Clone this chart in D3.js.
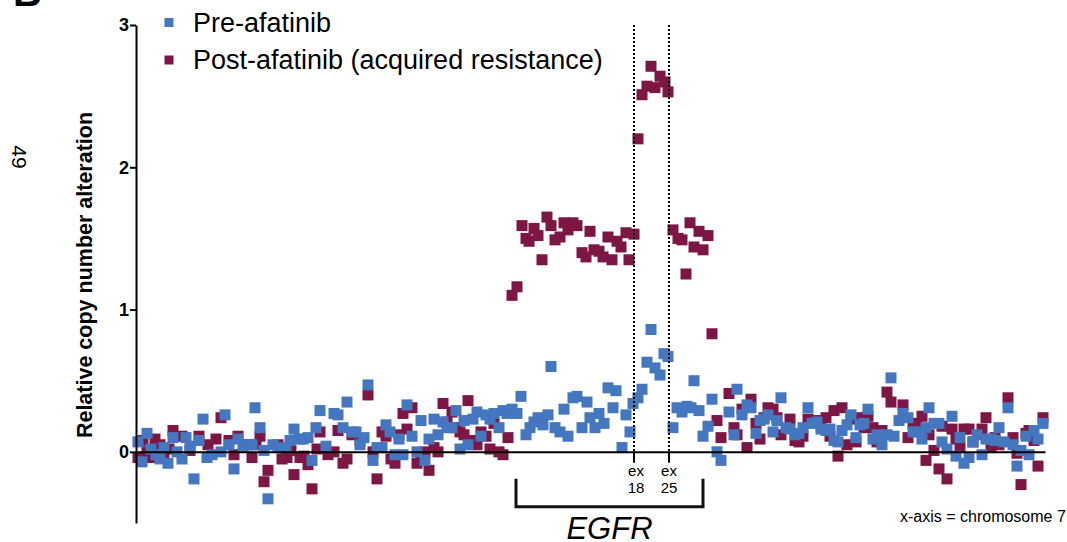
<!DOCTYPE html>
<html>
<head>
<meta charset="utf-8">
<script src="https://cdn.jsdelivr.net/npm/d3@7"></script>
<style>
  body { margin: 0; background: #fff; }
  svg { display: block; font-family: Arial, "Liberation Sans", Helvetica, sans-serif; }
</style>
</head>
<body>
<div id="chart"></div>
<script>
// posições ao longo do cromossomo 7 (índice de sonda) e alteração relativa
const preAfatinib = [
  [2,0.07],[6,-0.07],[11,0.13],[15,0.02],[20,-0.02],[24,-0.05],[28,0.03],[32,-0.08],[37,0.10],[41,0.00],
  [46,-0.05],[50,0.10],[54,0.04],[58,-0.19],[63,0.08],[67,0.23],[71,-0.04],[76,-0.02],[85,0.00],[89,0.26],
  [93,0.05],[98,-0.12],[102,0.09],[107,0.04],[111,0.05],[116,0.05],[119,0.31],[124,0.17],[128,0.01],[132,-0.33],
  [137,0.05],[142,0.03],[146,0.03],[150,0.03],[154,0.08],[158,0.16],[163,0.09],[167,0.09],[172,0.10],[176,-0.06],
  [180,0.17],[184,0.29],[190,0.04],[198,0.27],[202,0.26],[207,0.17],[211,0.35],[216,0.14],[220,0.14],[224,0.05],
  [228,0.10],[232,0.47],[237,-0.06],[241,0.03],[246,0.03],[250,0.19],[254,0.14],[259,-0.02],[263,0.09],[267,-0.02],
  [271,0.33],[276,0.11],[281,0.00],[285,0.22],[289,-0.06],[293,0.09],[298,0.23],[302,0.12],[307,0.21],[311,0.17],
  [316,0.17],[320,0.29],[324,0.02],[328,0.22],[332,0.05],[337,0.23],[341,0.28],[345,0.11],[350,0.26],[354,0.23],
  [358,0.27],[363,0.17],[367,0.29],[371,0.27],[376,0.30],[381,0.27],[385,0.39],[390,0.12],[394,0.17],[398,0.21],
  [402,0.24],[407,0.19],[412,0.26],[415,0.60],[419,0.17],[424,0.14],[428,0.30],[432,0.11],[437,0.38],[441,0.39],
  [446,0.17],[451,0.35],[454,0.24],[459,0.17],[463,0.27],[468,0.20],[472,0.45],[477,0.31],[480,0.43],[486,0.03],
  [490,0.26],[494,0.14],[497,0.34],[502,0.38],[506,0.44],[511,0.63],[515,0.86],[519,0.59],[524,0.54],[528,0.69],
  [532,0.67],[537,0.17],[541,0.31],[546,0.28],[551,0.32],[555,0.31],[558,0.50],[563,0.29],[567,0.11],[572,0.18],
  [576,0.37],[581,0.00],[585,-0.06],[593,0.28],[598,0.12],[601,0.44],[606,0.26],[611,0.33],[615,0.31],[620,0.13],
  [624,0.22],[628,0.23],[632,0.26],[637,0.14],[641,0.22],[645,0.38],[650,0.17],[654,0.16],[659,0.12],[663,0.13],
  [667,0.17],[672,0.31],[676,0.20],[681,0.21],[685,0.16],[690,0.15],[694,0.16],[698,0.08],[702,0.07],[706,0.15],
  [711,0.19],[715,0.26],[720,0.10],[724,0.19],[728,0.20],[732,0.30],[737,0.09],[741,0.12],[746,0.05],[751,0.12],
  [755,0.52],[758,0.11],[763,0.22],[767,0.27],[772,0.24],[777,0.14],[781,0.14],[786,0.09],[790,0.17],[793,0.31],
  [798,0.20],[803,0.20],[806,0.07],[811,0.02],[816,0.25],[820,-0.03],[824,0.10],[828,-0.08],[833,-0.04],[837,0.07],
  [841,0.12],[846,-0.02],[850,0.09],[855,0.09],[859,0.08],[863,0.17],[868,0.07],[872,0.31],[877,0.05],[881,-0.10],
  [885,0.01],[890,0.11],[893,-0.02],[898,0.15],[902,0.09],[907,0.20]
];

const postAfatinib = [
  [2,-0.04],[7,0.08],[11,0.00],[15,-0.04],[19,0.09],[24,0.05],[28,-0.03],[33,0.02],[37,0.15],[46,0.11],
  [54,0.01],[63,0.11],[72,0.05],[80,0.09],[85,0.24],[93,0.08],[98,-0.02],[102,0.11],[111,0.05],[116,-0.04],
  [120,0.05],[124,0.11],[128,-0.21],[132,-0.13],[142,0.05],[146,-0.05],[151,-0.04],[155,0.01],[158,-0.16],[164,-0.04],
  [168,-0.03],[172,-0.09],[176,-0.26],[181,0.02],[184,0.14],[192,-0.02],[198,0.00],[202,0.15],[207,-0.08],[211,-0.05],
  [216,0.12],[224,0.08],[232,0.40],[237,0.00],[241,-0.19],[246,0.14],[250,0.11],[255,-0.05],[259,-0.08],[263,0.12],
  [267,0.27],[271,0.16],[276,0.31],[281,-0.08],[285,-0.01],[289,0.00],[293,-0.13],[298,0.03],[302,0.00],[307,0.34],
  [311,0.21],[316,0.28],[320,0.17],[324,0.14],[328,0.12],[332,0.36],[337,0.08],[341,0.05],[345,0.14],[350,0.11],
  [354,0.02],[358,0.20],[363,0.00],[367,-0.02],[372,0.10],
  [376,1.10],[381,1.16],[386,1.59],[390,1.50],[393,1.48],[398,1.57],[402,1.52],[406,1.35],[411,1.65],[415,1.59],
  [419,1.49],[424,1.51],[428,1.61],[432,1.56],[437,1.61],[441,1.59],[446,1.40],[450,1.37],[454,1.55],[458,1.42],
  [463,1.41],[467,1.37],[472,1.51],[476,1.35],[481,1.48],[485,1.44],[490,1.54],[493,1.35],[498,1.53],
  [502,2.20],[506,2.51],[511,2.57],[515,2.71],[519,2.56],[524,2.64],[529,2.60],[532,2.53],
  [537,1.56],[542,1.50],[546,1.49],[550,1.25],[554,1.61],[558,1.44],[563,1.55],[567,1.42],[572,1.52],[576,0.83],
  [581,0.22],[585,0.10],[593,0.41],[598,0.17],[601,0.12],[606,0.30],[611,0.03],[615,0.37],[620,0.20],[624,0.09],
  [628,0.24],[632,0.31],[637,0.30],[641,0.24],[645,0.12],[654,0.23],[659,0.08],[663,0.07],[667,0.11],[672,0.23],
  [681,0.22],[685,0.19],[690,0.24],[694,0.11],[698,0.29],[702,-0.03],[706,0.31],[711,0.05],[715,0.23],[720,0.07],
  [724,0.24],[728,0.17],[732,0.25],[737,0.17],[741,0.07],[746,0.15],[751,0.42],[755,0.35],[767,0.33],[772,0.10],
  [777,0.20],[781,0.20],[786,0.25],[790,-0.06],[793,0.12],[798,0.01],[803,-0.12],[806,0.18],[811,-0.19],[816,0.16],
  [820,0.09],[824,0.03],[828,0.16],[833,0.16],[837,0.07],[846,0.16],[850,0.24],[855,0.03],[859,0.10],[863,0.05],
  [872,0.38],[877,0.10],[881,-0.01],[885,-0.23],[890,0.13],[893,0.15],[898,0.08],[902,-0.10],[907,0.24]
];

const yTicks = [0, 1, 2, 3];
const exonLabels = ["18", "25"];
const exonPos = [498, 533];
const egfrRange = [380, 567];
const legendLabels = ["Pre-afatinib", "Post-afatinib (acquired resistance)"];

const width = 1067;
const height = 542;
const corPre = "#4477bf";
const corPost = "#7e1645";
const tam = 11;

const svg = d3.select("#chart").append("svg")
    .attr("width", width)
    .attr("height", height);

svg.append("rect").attr("width", width).attr("height", height).attr("fill", "#fff");

const x = d3.scaleLinear().domain([0, 909]).range([136, 1045]);
const y = d3.scaleLinear().domain([-0.5, 3]).range([523, 25]);

// pontos: pós primeiro, pré por cima
svg.append("g")
    .selectAll("rect")
    .data(postAfatinib)
    .join("rect")
    .attr("x", d => x(d[0]) - tam / 2)
    .attr("y", d => y(d[1]) - tam / 2)
    .attr("width", tam)
    .attr("height", tam)
    .attr("fill", corPost);

svg.append("g")
    .selectAll("rect")
    .data(preAfatinib)
    .join("rect")
    .attr("x", d => x(d[0]) - tam / 2)
    .attr("y", d => y(d[1]) - tam / 2)
    .attr("width", tam)
    .attr("height", tam)
    .attr("fill", corPre);

// eixo x = linha no zero
svg.append("g")
    .attr("transform", `translate(0,${y(0)})`)
    .call(d3.axisBottom(x).tickValues([]).tickSizeOuter(0))
    .call(g => g.select(".domain").attr("stroke", "#000").attr("stroke-width", 2));

// eixo y
svg.append("g")
    .attr("transform", `translate(${x(0)},0)`)
    .call(d3.axisLeft(y).tickValues(yTicks).tickFormat(d3.format("d")).tickSize(6).tickSizeOuter(0).tickPadding(1))
    .call(g => g.select(".domain").attr("stroke", "#000").attr("stroke-width", 2))
    .call(g => g.selectAll(".tick line").attr("stroke", "#000").attr("stroke-width", 2))
    .call(g => g.selectAll(".tick text")
        .attr("fill", "#000")
        .attr("font-size", 18)
        .attr("font-weight", "bold")
        .attr("font-family", "Arial, 'Liberation Sans', sans-serif"));

svg.append("text")
    .attr("transform", `translate(92,275) rotate(-90)`)
    .attr("text-anchor", "middle")
    .attr("font-size", 21.5)
    .attr("font-weight", "bold")
    .text("Relative copy number alteration");

// linhas dos éxons
exonPos.forEach((p, i) => {
    svg.append("line")
        .attr("x1", x(p)).attr("x2", x(p))
        .attr("y1", y(3)).attr("y2", y(0))
        .attr("stroke", "#000")
        .attr("stroke-width", 2)
        .attr("stroke-dasharray", "2,2");
    svg.append("line")
        .attr("x1", x(p)).attr("x2", x(p))
        .attr("y1", y(0)).attr("y2", y(0) + 11)
        .attr("stroke", "#000")
        .attr("stroke-width", 2);
    const t = svg.append("text")
        .attr("text-anchor", "middle")
        .attr("font-size", 15)
        .attr("fill", "#000");
    t.append("tspan").attr("x", x(p) + (i === 0 ? 2 : 0)).attr("y", y(0) + 24).text("ex");
    t.append("tspan").attr("x", x(p) + (i === 0 ? 2 : 0)).attr("y", y(0) + 41).text(exonLabels[i]);
});

// colchete do EGFR
const bTop = y(0) + 27, bBot = y(0) + 55;
svg.append("path")
    .attr("d", `M${x(egfrRange[0])},${bTop} V${bBot} H${x(egfrRange[1])} V${bTop}`)
    .attr("fill", "none")
    .attr("stroke", "#111")
    .attr("stroke-width", 3);

svg.append("text")
    .attr("x", (x(egfrRange[0]) + x(egfrRange[1])) / 2)
    .attr("y", 539)
    .attr("text-anchor", "middle")
    .attr("font-size", 31)
    .attr("font-style", "italic")
    .text("EGFR");

svg.append("text")
    .attr("x", 900)
    .attr("y", 522)
    .attr("font-size", 16)
    .text("x-axis = chromosome 7");

// legenda
const legenda = svg.append("g");
legendLabels.forEach((l, i) => {
    legenda.append("rect")
        .attr("x", 164.5).attr("y", 18 + i * 37.5)
        .attr("width", 9).attr("height", 9)
        .attr("fill", i === 0 ? corPre : corPost);
    legenda.append("text")
        .attr("x", 193).attr("y", 32 + i * 37)
        .attr("font-size", 27)
        .text(l);
});

// letra do painel e número da página
svg.append("text")
    .attr("x", 13).attr("y", 6)
    .attr("font-size", 40)
    .attr("font-weight", "bold")
    .text("B");

svg.append("text")
    .attr("transform", "translate(12,157) rotate(90)")
    .attr("text-anchor", "middle")
    .attr("font-size", 21)
    .text("49");
</script>
</body>
</html>
